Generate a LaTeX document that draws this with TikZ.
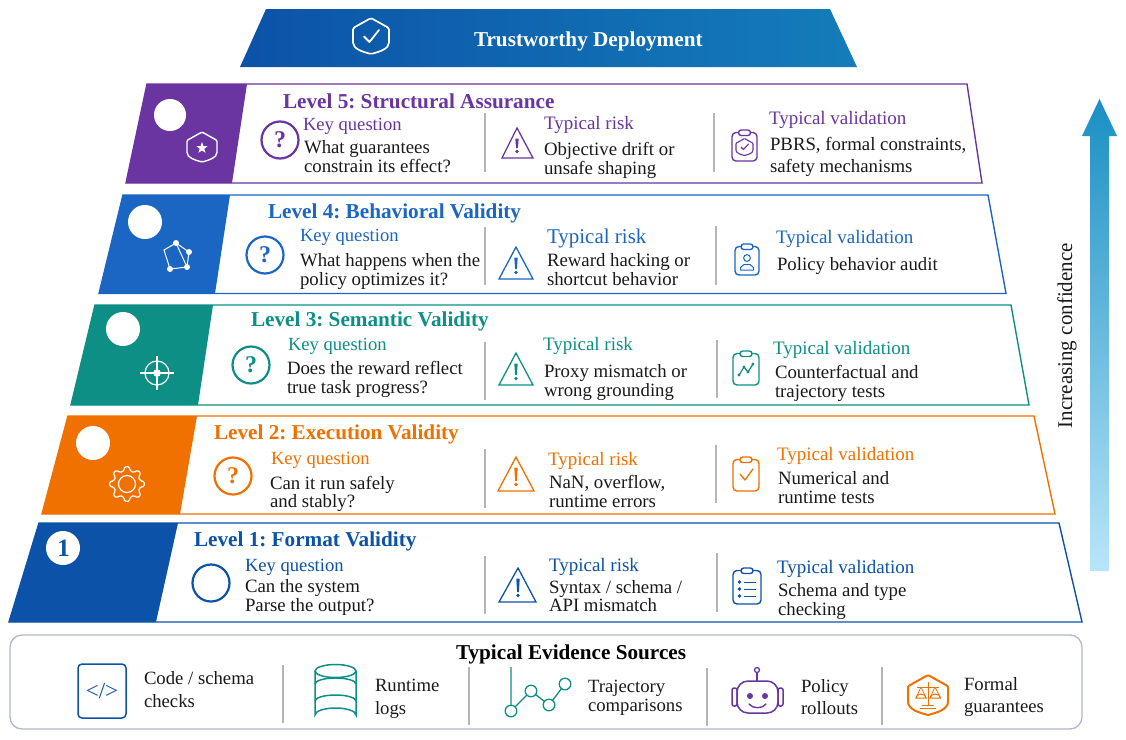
\documentclass[tikz,border=0pt]{standalone}
\usepackage{fontspec}
\setmainfont{Liberation Serif}
\usetikzlibrary{shapes.geometric,arrows.meta}
\definecolor{cPur}{HTML}{6A35A0}
\definecolor{cBlu}{HTML}{1A66C2}
\definecolor{cTea}{HTML}{0E8F85}
\definecolor{cOra}{HTML}{F07000}
\definecolor{cNav}{HTML}{0C52A8}
\definecolor{cTxt}{HTML}{1A1A1A}
\definecolor{cSep}{HTML}{B5B5B5}
\tikzset{
  lbl/.style={inner sep=0pt,outer sep=0pt,anchor=base west,text=cTxt,font=\frenchspacing},
  sepline/.style={draw=cSep,line width=1.1pt},
}
\newcommand{\fs}[1]{\fontsize{#1}{#1}\selectfont}
% \lev{x1}{x2}{x3}{x4}{ytop}{ybot}{xfilltop}{xfillbot}{colour}
\newcommand{\lev}[9]{%
  \fill[#9] (#1,#5) -- (#7,#5) -- (#8,#6) -- (#4,#6) -- cycle;
  \draw[#9,line width=1.4pt,line join=miter] (#1,#5) -- (#2,#5) -- (#3,#6) -- (#4,#6) -- cycle;
}
\newcommand{\qic}[4]{\draw[#3,line width=2.2pt] (#1,#2) circle[radius=18.5];
  \node[lbl,anchor=center,text=#3] (#4) at (#1,#2) {\fs{24}\bfseries ?};}
\newcommand{\tri}[6]{% apex x, apex y, base y, left, right, colour
  \draw[#6,line width=1.3pt,line join=miter] (#1,#2) -- (#5,#3) -- (#4,#3) -- cycle;
  \fill[#6] (#1-1.7,#2+10.5) -- (#1+1.7,#2+10.5) -- (#1+0.9,#3-10) -- (#1-0.9,#3-10) -- cycle;
  \fill[#6] (#1,#3-6.5) circle[radius=1.8];}
% clipboard: x1 x2 y1 y2 colour
\newcommand{\clipbd}[5]{%
  \draw[#5,line width=1.4pt,rounded corners=4pt] (#1,#3+2.5) rectangle (#2,#4);
  \draw[#5,line width=1.4pt,fill=white,rounded corners=2.7pt] ({(#1+#2)/2-6},#3) rectangle ({(#1+#2)/2+6},#3+5.5);}
\newcommand{\shieldpath}[3]{% cx cy half-size
  (#1,#2-#3) -- (#1+#3,#2-0.44*#3) -- (#1+#3,#2+0.28*#3) .. controls (#1+#3,#2+0.72*#3) and (#1+0.45*#3,#2+0.88*#3) .. (#1,#2+#3) .. controls (#1-0.45*#3,#2+0.88*#3) and (#1-#3,#2+0.72*#3) .. (#1-#3,#2+0.28*#3) -- (#1-#3,#2-0.44*#3) -- cycle}
\begin{document}
\begin{tikzpicture}[x=1pt,y=-1pt]
\useasboundingbox (0,0) rectangle (1126,739);
\fill[white] (0,0) rectangle (1126,739);

% ---- top banner
\shade[left color=cNav,right color={rgb,255:red,20;green,125;blue,185}] (266,9) -- (830,9) -- (857,67) -- (240,67) -- cycle;
\draw[white,line width=1.7pt,line join=round,rounded corners=1.5pt] \shieldpath{371}{36}{18};
\draw[white,line width=1.8pt,line cap=round,line join=round] (364,36.5) -- (369.5,42) -- (379,30);
\node[lbl,text=white] (title) at (474,46) {\fs{21.2}\bfseries Trustworthy Deployment};

% ---- levels
\lev{147}{967}{982}{126}{84}{183}{247}{232}{cPur}
\lev{123}{988}{1006}{99}{195}{293.5}{230}{215}{cBlu}
\lev{95}{1011}{1029}{71}{305}{405}{213}{198}{cTea}
\lev{68}{1034}{1055}{42}{416}{514}{197}{180}{cOra}
\lev{39}{1059}{1082}{9}{523}{622}{178}{156}{cNav}

% white number discs
\fill[white] (170,115) circle[radius=16];
\fill[white] (145,222) circle[radius=17];
\fill[white] (123,329) circle[radius=17];
\fill[white] (93,443) circle[radius=17];
\fill[white] (63,548) circle[radius=17];
\node[lbl,anchor=center,text=cNav] (numone) at (63.5,548) {\fs{25}\bfseries 1};

% badge icons
\draw[white,line width=1.4pt,rounded corners=1.2pt] \shieldpath{202}{147}{15};
\fill[white,shift={(202,148)},x=1pt,y=1pt] (90:6)--(126:2.4)--(162:6)--(198:2.4)--(234:6)--(270:2.4)--(306:6)--(342:2.4)--(18:6)--(54:2.4)--cycle;
% network
\draw[white,line width=1pt] (176,243) -- (189,252) -- (187,267) -- (170,269) -- (164,250) -- (176,243) -- (187,267);
\foreach \a/\b in {176/243,189/252,187/267,170/269}{\fill[white] (\a,\b) circle[radius=3];}
% target
\draw[white,line width=1.2pt] (157,373) circle[radius=12];
\draw[white,line width=1.2pt] (140,373) -- (174,373) (157,356) -- (157,390);
\fill[white] (157,373) circle[radius=3.8];
% gear
\draw[white,line width=1.2pt,line join=round,rounded corners=1.4pt,shift={(127,484)}]
  (-13:13.5) \foreach \k in {0,1,...,7} { -- ({\k*45-13}:13.5) -- ({\k*45-8}:17.5) -- ({\k*45+8}:17.5) -- ({\k*45+13}:13.5) } -- cycle;
\draw[white,line width=1.2pt] (127,484) circle[radius=8.5];

% ---- headings
\node[lbl,text=cPur] (h5) at (283,108) {\fs{21.2}\bfseries Level 5: Structural Assurance};
\node[lbl,text=cBlu] (h4) at (268,218) {\fs{21.2}\bfseries Level 4: Behavioral Validity};
\node[lbl,text=cTea] (h3) at (251,326) {\fs{21.2}\bfseries Level 3: Semantic Validity};
\node[lbl,text=cOra] (h2) at (214,439) {\fs{21.2}\bfseries Level 2: Execution Validity};
\node[lbl,text=cNav] (h1) at (194,546) {\fs{21.2}\bfseries Level 1: Format Validity};

% ---- question icons
\qic{280}{140}{cPur}{q5}
\qic{265}{255}{cBlu}{q4}
\qic{251}{365}{cTea}{q3}
\qic{233}{476}{cOra}{q2}
\draw[cNav,line width=2.2pt] (211,583) circle[radius=18.5];

% ---- key question
\node[lbl,text=cPur] (k5) at (303,130) {\fs{18.6}Key question};
\node[lbl] (k5a) at (304,153) {\fs{18.8}What guarantees};
\node[lbl] (k5b) at (304,172) {\fs{18.8}constrain its effect?};
\node[lbl,text=cBlu] (k4) at (300,241) {\fs{18.6}Key question};
\node[lbl] (k4a) at (300,266) {\fs{18.8}What happens when the};
\node[lbl] (k4b) at (300,285) {\fs{18.8}policy optimizes it?};
\node[lbl,text=cTea] (k3) at (288,350) {\fs{18.6}Key question};
\node[lbl] (k3a) at (287,374) {\fs{18.8}Does the reward reflect};
\node[lbl] (k3b) at (287,393) {\fs{18.8}true task progress?};
\node[lbl,text=cOra] (k2) at (271,464) {\fs{18.6}Key question};
\node[lbl] (k2a) at (270,489) {\fs{18.8}Can it run safely};
\node[lbl] (k2b) at (270,507) {\fs{18.8}and stably?};
\node[lbl,text=cNav] (k1) at (245,571) {\fs{18.6}Key question};
\node[lbl] (k1a) at (245,592) {\fs{18.8}Can the system};
\node[lbl] (k1b) at (245,611) {\fs{18.8}Parse the output?};

% ---- separators
\draw[sepline] (485,113) -- (485,172) (714,113) -- (714,172);
\draw[sepline] (485,227) -- (485,285) (716,226) -- (716,285);
\draw[sepline] (485,342) -- (485,400) (717,340) -- (717,398);
\draw[sepline] (485,449) -- (485,508) (716,445) -- (716,503);
\draw[sepline] (485,556) -- (485,614) (717,553) -- (717,612);

% ---- risks
\tri{517}{128}{158}{502}{533}{cPur}
\tri{516}{247}{279}{499}{533}{cBlu}
\tri{516}{353}{385}{499}{533}{cTea}
\tri{516}{457}{491}{498}{534}{cOra}
\tri{518}{568}{602}{499}{536}{cNav}
\node[lbl,text=cPur] (r5) at (544,129) {\fs{19}Typical risk};
\node[lbl] (r5a) at (544,155) {\fs{18.8}Objective drift or};
\node[lbl] (r5b) at (544,174) {\fs{18.8}unsafe shaping};
\node[lbl,text=cBlu] (r4) at (547,243) {\fs{21}Typical risk};
\node[lbl] (r4a) at (547,266) {\fs{18.8}Reward hacking or};
\node[lbl] (r4b) at (547,285) {\fs{18.8}shortcut behavior};
\node[lbl,text=cTea] (r3) at (543,350) {\fs{19}Typical risk};
\node[lbl] (r3a) at (544,377) {\fs{18.8}Proxy mismatch or};
\node[lbl] (r3b) at (544,396) {\fs{18.8}wrong grounding};
\node[lbl,text=cOra] (r2) at (548,465) {\fs{19}Typical risk};
\node[lbl] (r2a) at (549,488) {\fs{18.8}NaN, overflow,};
\node[lbl] (r2b) at (549,507) {\fs{18.8}runtime errors};
\node[lbl,text=cNav] (r1) at (549,571) {\fs{19}Typical risk};
\node[lbl] (r1a) at (549,593) {\fs{18.8}Syntax / schema /};
\node[lbl] (r1b) at (549,611) {\fs{18.8}API mismatch};

% ---- clipboards
\clipbd{732}{757}{130}{161}{cPur}
\draw[cPur,line width=1.1pt,rounded corners=0.8pt] \shieldpath{744.5}{147}{8.5};
\draw[cPur,line width=1.1pt,line cap=round,line join=round] (741,147) -- (743.5,149.5) -- (748.5,144);
\clipbd{735}{759}{244}{275}{cBlu}
\draw[cBlu,line width=1pt] (747,258) circle[radius=3.4];
\draw[cBlu,line width=1pt,line join=round] (740.5,270) -- (740.5,267.5) -- (744,264.5) -- (750,264.5) -- (753.5,267.5) -- (753.5,270) -- cycle;
\clipbd{733}{759}{351}{385}{cTea}
\draw[cTea,line width=1.2pt] (739,375) -- (744,367) -- (748,372) -- (753,364);
\foreach \a/\b in {739/375,744/367,748/372,753/364}{\fill[cTea] (\a,\b) circle[radius=1.6];}
\clipbd{733}{759}{457}{491}{cOra}
\draw[cOra,line width=1.3pt,line cap=round,line join=round] (740,474) -- (745,480) -- (753,469);
\clipbd{733}{761}{568}{604}{cNav}
\foreach \yy in {582,589,596}{\fill[cNav] (739.5,\yy) circle[radius=1.9]; \draw[cNav,line width=1pt] (744,\yy) -- (756,\yy);}

\node[lbl,text=cPur] (v5) at (769,124) {\fs{19}Typical validation};
\node[lbl] (v5a) at (770,150) {\fs{18.8}PBRS, formal constraints,};
\node[lbl] (v5b) at (770,172) {\fs{18.8}safety mechanisms};
\node[lbl,text=cBlu] (v4) at (776,243) {\fs{19}Typical validation};
\node[lbl] (v4a) at (777,270) {\fs{18.8}Policy behavior audit};
\node[lbl,text=cTea] (v3) at (773,354) {\fs{19}Typical validation};
\node[lbl] (v3a) at (775,378) {\fs{18.8}Counterfactual and};
\node[lbl] (v3b) at (775,397) {\fs{18.8}trajectory tests};
\node[lbl,text=cOra] (v2) at (777,460) {\fs{19}Typical validation};
\node[lbl] (v2a) at (778,484) {\fs{18.8}Numerical and};
\node[lbl] (v2b) at (778,503) {\fs{18.8}runtime tests};
\node[lbl,text=cNav] (v1) at (777,573) {\fs{19}Typical validation};
\node[lbl] (v1a) at (778,596) {\fs{18.8}Schema and type};
\node[lbl] (v1b) at (778,615) {\fs{18.8}checking};

% ---- confidence arrow
\shade[top color={rgb,255:red,26;green,143;blue,196},middle color={rgb,255:red,92;green,192;blue,234},bottom color={rgb,255:red,184;green,230;blue,248}]
 (1099.5,99) -- (1117,136) -- (1109,136) -- (1109,571) -- (1090,571) -- (1090,136) -- (1082,136) -- cycle;
\node[lbl,rotate=90] (conf) at (1072,428) {\fs{21}Increasing confidence};

% ---- evidence panel
\draw[draw={rgb,255:red,176;green,184;blue,200},line width=1.3pt,rounded corners=12pt] (10,635) rectangle (1082,729);
\node[lbl,text=black] (evtitle) at (456,659) {\fs{21.2}\bfseries Typical Evidence Sources};
\draw[sepline] (283,665) -- (283,723) (469,667) -- (469,725) (707,668) -- (707,726) (882,667) -- (882,725);
% code
\draw[cNav,line width=1.5pt,rounded corners=4pt] (78,664) rectangle (126,718);
\node[lbl,anchor=center,text=cNav] (codemark) at (102,691) {\fs{23}</>};
\node[lbl] (e1a) at (144,684) {\fs{18.7}Code / schema};
\node[lbl] (e1b) at (144,707) {\fs{18.7}checks};
% db
\draw[cTea,line width=1.5pt] (315,671) -- (315,715) arc[x radius=20.5,y radius=7,start angle=180,end angle=360] -- (356,671);
\draw[cTea,line width=1.5pt] (335.5,671) ellipse[x radius=20.5,y radius=6.5];
\draw[cTea,line width=1.5pt] (315,684) arc[x radius=20.5,y radius=6,start angle=180,end angle=360];
\draw[cTea,line width=1.5pt] (315,701) arc[x radius=20.5,y radius=6,start angle=180,end angle=360];
\node[lbl] (e2a) at (375,691) {\fs{18.7}Runtime};
\node[lbl] (e2b) at (375,714) {\fs{18.7}logs};
% trajectory
\draw[cTea,line width=1.3pt] (511,667) -- (511,711) -- (531,691) -- (549,705) -- (565,684);
\foreach \a/\b in {511/711,531/691,549/705,565/684}{\draw[cTea,line width=1.3pt,fill=white] (\a,\b) circle[radius=5.8];}
\node[lbl] (e3a) at (588,692) {\fs{18.7}Trajectory};
\node[lbl] (e3b) at (588,711) {\fs{18.7}comparisons};
% robot
\draw[cPur,line width=1.5pt,rounded corners=11pt] (737,681) rectangle (778,713);
\draw[cPur,line width=1.5pt,rounded corners=2pt] (732,688) rectangle (737,706) (778,688) rectangle (783,706);
\draw[cPur,line width=1.5pt] (757,681) -- (757,673);
\draw[cPur,line width=1.3pt] (757,670) circle[radius=2.5];
\fill[cPur] (750,696) circle[radius=3] (765,696) circle[radius=3];
\draw[cPur,line width=1.4pt,line cap=round] (749,704) .. controls (753,709) and (762,709) .. (766,704);
\node[lbl] (e4a) at (801,692) {\fs{18.7}Policy};
\node[lbl] (e4b) at (801,714) {\fs{18.7}rollouts};
% formal
\draw[cOra,line width=2pt,rounded corners=1pt] \shieldpath{928}{695}{20};
\draw[cOra,line width=1pt] (928,682) -- (928,705) (922,705.5) -- (934,705.5) (920,708.5) -- (936,708.5);
\draw[cOra,line width=1pt] (917,687) -- (939,687);
\draw[cOra,line width=0.8pt] (921,687) -- (916,698) (921,687) -- (926,698) (935,687) -- (930,698) (935,687) -- (940.5,698);
\draw[cOra,line width=1pt] (916,698) arc[x radius=5,y radius=4,start angle=180,end angle=360] -- cycle;
\draw[cOra,line width=1pt] (930,698) arc[x radius=5.3,y radius=4,start angle=180,end angle=360] -- cycle;
\node[lbl] (e5a) at (964,690) {\fs{18.7}Formal};
\node[lbl] (e5b) at (964,712) {\fs{18.7}guarantees};
\end{tikzpicture}
\end{document}
